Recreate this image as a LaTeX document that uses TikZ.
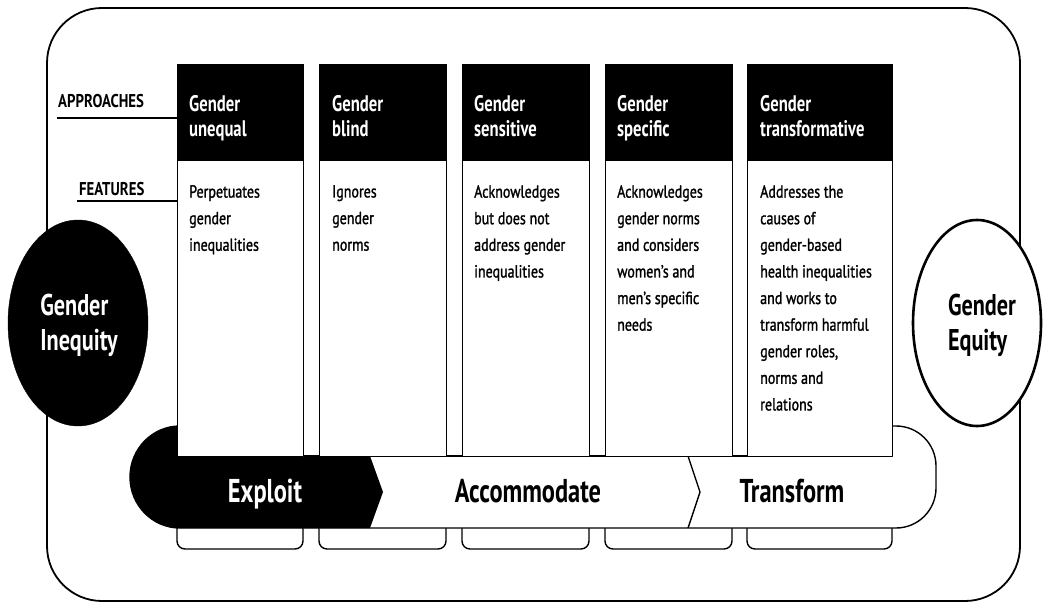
\documentclass[tikz,border=0pt]{standalone}
\usepackage{fontspec}
\setmainfont{PT Sans}[FakeStretch=0.74]
\newfontfamily\bodyfont{PT Sans}[FakeStretch=0.8,FakeBold=1.3]
\newfontfamily\capfont{PT Sans}[FakeStretch=0.8]
\usetikzlibrary{shapes.geometric,calc}
\begin{document}
\begin{tikzpicture}[x=1pt,y=1pt,line join=round,
  lw/.style={line width=1.4pt},
  colbox/.style={draw=black,lw,fill=white,anchor=north west,inner sep=0pt,minimum height=392pt},
  hdrbox/.style={draw=black,lw,fill=black,anchor=north west,inner sep=0pt,minimum height=96pt},
  htext/.style={text=white,font=\fontsize{22.5}{25}\selectfont\bfseries,align=left,anchor=north west,inner sep=0pt},
  btext/.style={font=\bodyfont\fontsize{17.5}{26.6}\selectfont,align=left,anchor=north west,inner sep=0pt},
  lbl/.style={font=\capfont\fontsize{18.5}{20}\selectfont\bfseries,anchor=base west,inner sep=0pt},
  band/.style={font=\fontsize{33}{35}\selectfont\bfseries,anchor=base,inner sep=0pt},
  big/.style={font=\fontsize{30}{35}\selectfont\bfseries,align=left,inner sep=0pt}]
\useasboundingbox (0,0) rectangle (1043,-604);
% outer frame
\draw[line width=1.8pt,rounded corners=55] (47,-8) rectangle (1020,-601);
% bottom tabs
\foreach \a/\b in {177/303,319/446,462/589,605/732,747/892}{
  \draw[lw,fill=white,rounded corners=8] (\a,-500) -- (\a,-549) -- (\b,-549) -- (\b,-500) -- cycle;}
% band
\draw[lw,fill=white] (180,-426) -- (896,-426) arc[start angle=90,end angle=0,radius=40]
  -- (936,-488) arc[start angle=0,end angle=-90,radius=40]
  -- (180,-528) arc[start angle=270,end angle=90,x radius=50,y radius=51] -- cycle;
\fill[black] (180,-426) -- (370,-426) -- (370,-456) -- (383,-492) -- (370,-528) -- (180,-528)
  arc[start angle=270,end angle=90,x radius=50,y radius=51] -- cycle;
\draw[lw] (688,-456) -- (700,-492) -- (688,-528);
\fill[white] (177,-400) rectangle (892,-456);
\draw[lw] (177,-456) -- (892,-456);
% columns
\node[colbox,minimum width=126pt] (c1) at (177,-64) {};
\node[colbox,minimum width=127pt] (c2) at (319,-64) {};
\node[colbox,minimum width=127pt] (c3) at (462,-64) {};
\node[colbox,minimum width=127pt] (c4) at (605,-64) {};
\node[colbox,minimum width=145pt] (c5) at (747,-64) {};
\node[hdrbox,minimum width=126pt] (h1) at (177,-64) {};
\node[hdrbox,minimum width=127pt] (h2) at (319,-64) {};
\node[hdrbox,minimum width=127pt] (h3) at (462,-64) {};
\node[hdrbox,minimum width=127pt] (h4) at (605,-64) {};
\node[hdrbox,minimum width=145pt] (h5) at (747,-64) {};
% header texts
\node[htext] (t1) at (189,-95) {Gender\\unequal};
\node[htext] (t2) at (332,-95) {Gender\\blind};
\node[htext] (t3) at (474,-95) {Gender\\sensitive};
\node[htext] (t4) at (617,-95) {Gender\\specific};
\node[htext] (t5) at (760,-95) {Gender\\transformative};
% body texts
\node[btext] (b1) at (189,-185) {Perpetuates\\gender\\inequalities};
\node[btext] (b2) at (332,-185) {Ignores\\gender\\norms};
\node[btext] (b3) at (474,-185) {Acknowledges\\but does not\\address gender\\inequalities};
\node[btext] (b4) at (617,-185) {Acknowledges\\gender norms\\and considers\\women’s and\\men’s specific\\needs};
\node[btext] (b5) at (760,-185) {Addresses the\\causes of\\gender-based\\health inequalities\\and works to\\transform harmful\\gender roles,\\norms and\\relations};
% side labels
\node[lbl] (ap) at (58,-108) {APPROACHES};
\node[lbl] (fe) at (79,-195) {FEATURES};
\coordinate (apl) at (57,-118);
\coordinate (fel) at (77,-201);
\draw[lw] (apl) -- (apl -| c1.west);
\draw[lw] (fel) -- (fel -| c1.west);
% band labels
\node[band,text=white] (ex) at (265,-502) {Exploit};
\node[band] (ac) at (528,-502) {Accommodate};
\node[band] (tr) at (792,-502) {Transform};
% ellipses
\node[ellipse,fill=black,draw=black,minimum width=140pt,minimum height=206pt,inner sep=0pt] (ineq) at (78,-323) {};
\node[big,text=white] (ineqt) at (79,-325) {Gender\\Inequity};
\node[ellipse,fill=white,draw=black,line width=2.6pt,minimum width=128pt,minimum height=206pt,inner sep=0pt] (eq) at (977,-323) {};
\node[big] (eqt) at (982,-325) {Gender\\Equity};
\end{tikzpicture}
\end{document}
